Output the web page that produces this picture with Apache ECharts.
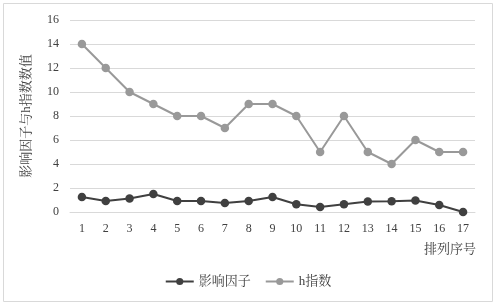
<!DOCTYPE html>
<html><head><meta charset="utf-8">
<script src="https://cdn.jsdelivr.net/npm/echarts@6/dist/echarts.min.js"></script>
<style>html,body{margin:0;padding:0;background:#fff}#c{width:496px;height:306px}</style>
</head><body><div id="c"></div>
<script>
const categories = ['1','2','3','4','5','6','7','8','9','10','11','12','13','14','15','16','17'];
const impactFactor = [1.25,0.92,1.12,1.5,0.92,0.92,0.75,0.92,1.25,0.64,0.42,0.64,0.87,0.9,0.95,0.58,0];
const hIndex = [14,12,10,9,8,8,7,9,9,8,5,8,5,4,6,5,5];
const seriesNames = ['影响因子','h指数'];
const yTicks = {min:0,max:16,interval:2};

const serif = '"Liberation Serif","Noto Serif CJK SC","Noto Sans CJK SC",serif';
const chart = echarts.init(document.getElementById('c'));
chart.setOption({
  animation:false,
  textStyle:{fontFamily:serif},
  graphic:[
    {type:'rect',shape:{x:3.5,y:3.5,width:489,height:298},style:{fill:'none',stroke:'#d9d9d9',lineWidth:1}},
    {type:'text',right:20,top:243,style:{text:'排列序号',fill:'#404040',font:'13px '+serif}}
  ],
  grid:{left:70,right:21,top:20,bottom:94},
  legend:{bottom:13,left:'center',itemWidth:28,itemHeight:9,itemGap:14,
    textStyle:{color:'#404040',fontSize:13,fontFamily:serif},
    data:seriesNames},
  xAxis:{type:'category',data:categories,boundaryGap:true,
    axisLine:{show:true,lineStyle:{color:'#d9d9d9'}},axisTick:{show:false},
    axisLabel:{color:'#404040',fontSize:12,margin:11,fontFamily:serif}},
  yAxis:{type:'value',min:yTicks.min,max:yTicks.max,interval:yTicks.interval,
    name:'影响因子与h指数数值',nameLocation:'middle',nameGap:37,
    nameTextStyle:{color:'#404040',fontSize:13,fontFamily:serif},
    axisLine:{show:false},axisTick:{show:false},
    splitLine:{lineStyle:{color:'#d9d9d9'}},
    axisLabel:{color:'#404040',fontSize:12,margin:11,fontFamily:serif}},
  series:[
    {name:seriesNames[0],type:'line',data:impactFactor,symbol:'circle',symbolSize:8.5,
      itemStyle:{color:'#404040'},lineStyle:{color:'#404040',width:2}},
    {name:seriesNames[1],type:'line',data:hIndex,symbol:'circle',symbolSize:8.5,
      itemStyle:{color:'#999999'},lineStyle:{color:'#999999',width:2}}
  ]
});
</script></body></html>
